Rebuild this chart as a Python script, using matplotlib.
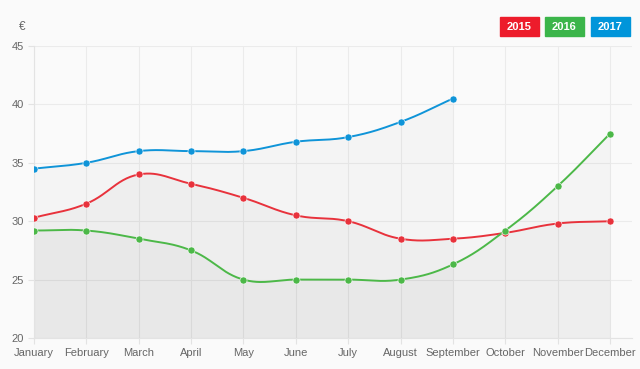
import numpy as np
import matplotlib
matplotlib.use("Agg")
import matplotlib.pyplot as plt

plt.rcParams["font.family"] = ["Liberation Sans", "DejaVu Sans"]

months = ["January", "February", "March", "April", "May", "June", "July",
          "August", "September", "October", "November", "December"]
y2015 = [30.3, 31.5, 34.0, 33.2, 32.0, 30.5, 30.0, 28.5, 28.5, 29.0, 29.8, 30.0]
y2016 = [29.2, 29.2, 28.5, 27.5, 25.0, 25.0, 25.0, 25.0, 26.3, 29.2, 33.0, 37.5]
y2017 = [34.5, 35.0, 36.0, 36.0, 36.0, 36.8, 37.2, 38.5, 40.5]

series = [("2015", y2015, "#e8323c"), ("2016", y2016, "#4cb848"), ("2017", y2017, "#0f94d8")]
legend_cols = ["#ed1c2b", "#3bb54a", "#0095da"]

# pixel scale of the chart, used so the curve tension behaves like the original
XS, YS = 52.36, 11.68


def bezier_curve(xs, ys, tension=0.4, n=30):
    """cubic bezier through the points, control points like chart.js splineCurve"""
    px = np.asarray(xs, float) * XS
    py = np.asarray(ys, float) * YS
    m = len(px)
    cin, cout = [], []
    for i in range(m):
        p = (px[max(i - 1, 0)], py[max(i - 1, 0)])
        c = (px[i], py[i])
        nx = (px[min(i + 1, m - 1)], py[min(i + 1, m - 1)])
        d01 = np.hypot(c[0] - p[0], c[1] - p[1])
        d12 = np.hypot(nx[0] - c[0], nx[1] - c[1])
        tot = d01 + d12
        s01 = d01 / tot if tot else 0
        s12 = d12 / tot if tot else 0
        fa, fb = tension * s01, tension * s12
        cin.append((c[0] - fa * (nx[0] - p[0]), c[1] - fa * (nx[1] - p[1])))
        cout.append((c[0] + fb * (nx[0] - p[0]), c[1] + fb * (nx[1] - p[1])))
    t = np.linspace(0, 1, n)[:, None]
    segs = []
    for i in range(m - 1):
        p0 = np.array([px[i], py[i]])
        p1 = np.array(cout[i])
        p2 = np.array(cin[i + 1])
        p3 = np.array([px[i + 1], py[i + 1]])
        b = ((1 - t) ** 3) * p0 + 3 * ((1 - t) ** 2) * t * p1 + 3 * (1 - t) * t ** 2 * p2 + t ** 3 * p3
        segs.append(b if i == 0 else b[1:])
    pts = np.vstack(segs)
    return pts[:, 0] / XS, pts[:, 1] / YS


bg = "#fafafa"
fig = plt.figure(figsize=(6.4, 3.69), dpi=100, facecolor=bg)
ax = fig.add_axes([34 / 640, 1 - 338 / 369, 598 / 640, 292 / 369], facecolor=bg)

for name, vals, col in series:
    x = np.arange(len(vals))
    cx, cy = bezier_curve(x, vals)
    ax.fill_between(cx, cy, 20, color="black", alpha=0.025, lw=0, zorder=1)
    ax.plot(cx, cy, color=col, lw=1.4, zorder=3)
    ax.scatter(x, vals, s=26, color=col, edgecolors="white", linewidths=0.4, zorder=4)

ax.set_xlim(0, 11.42)
ax.set_ylim(20, 45)
ax.set_xticks(range(len(months)))
ax.set_xticklabels(months)
ax.set_yticks(range(20, 46, 5))
ax.grid(True, color="#ebebeb", lw=0.8, zorder=0)
ax.set_axisbelow(True)
for s in ["top", "right"]:
    ax.spines[s].set_visible(False)
for s in ["left", "bottom"]:
    ax.spines[s].set_color("#e3e3e3")
ax.tick_params(colors="#e3e3e3", labelcolor="#666666", labelsize=8, length=4, width=0.8)

fig.text(22 / 640, 1 - 27 / 369, "€", color="#666666", fontsize=8.5, va="center", ha="center")

# legend boxes top right
lefts = [500, 545, 591]
for (name, vals, col), lc, lx in zip(series, legend_cols, lefts):
    fig.patches.append(plt.Rectangle((lx / 640, 1 - 36 / 369), 39 / 640, 19 / 369,
                                     transform=fig.transFigure, color=lc, figure=fig))
    fig.text((lx + 19.5) / 640, 1 - 26.5 / 369, name, color="white", fontsize=8,
             fontweight="bold", ha="center", va="center")

fig.savefig("out.png", dpi=100, facecolor=bg)
